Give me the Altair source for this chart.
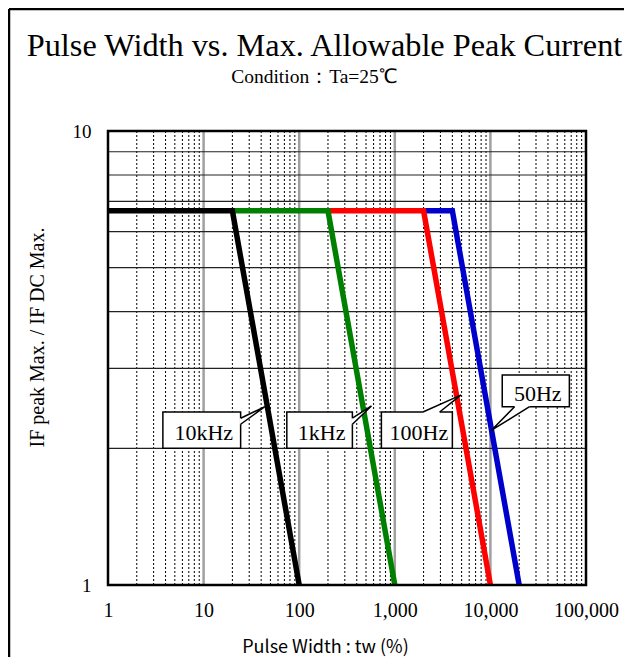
import altair as alt
import pandas as pd

# ---------------- data ----------------
series_names = ["50Hz", "100Hz", "1kHz", "10kHz"]          # drawing order (last on top)
series_colors = ["#0000cc", "#ff0000", "#008000", "#000000"]
tw_50hz = [2000, 4000, 20000]
tw_100hz = [200, 2000, 10000]
tw_1khz = [20, 200, 1000]
tw_10khz = [1, 20, 100]
ratio = [6.67, 6.67, 1.0]

x_ticks = [1, 10, 100, 1000, 10000, 100000]
y_ticks = [1, 10]
x_major_grid = [10, 100, 1000, 10000]
x_minor_grid = [2, 3, 4, 5, 6, 7, 8, 9,
                20, 30, 40, 50, 60, 70, 80, 90,
                200, 300, 400, 500, 600, 700, 800, 900,
                2000, 3000, 4000, 5000, 6000, 7000, 8000, 9000,
                20000, 30000, 40000, 50000, 60000, 70000, 80000, 90000]
y_grid = [2, 3, 4, 5, 6, 7, 8, 9]

# callout labels (data coordinates)
label_text = ["10kHz", "1kHz", "100Hz", "50Hz"]
box_x1 = [3.75, 74.2, 724, 13300]
box_x2 = [24.4, 360, 4000, 67000]
box_y1 = [2.0, 2.0, 2.0, 2.47]
box_y2 = [2.405, 2.405, 2.405, 2.90]
tail_b1_x = [24.4, 360, 1970, 17900]
tail_b1_y = [2.33, 2.33, 2.405, 2.47]
tail_b2_x = [24.4, 360, 2945, 25700]
tail_b2_y = [2.26, 2.26, 2.405, 2.47]
tip_x = [43.7, 570, 4900, 10200]
tip_y = [2.47, 2.48, 2.62, 2.19]

title_text = "Pulse Width vs. Max. Allowable Peak Current"
subtitle_text = "Condition：Ta=25℃"
x_title = "Pulse Width : tw (%)"
y_title = "IF peak Max. / IF DC Max."

# ---------------- tables ----------------
tw_all = [tw_50hz, tw_100hz, tw_1khz, tw_10khz]
rows = []
for i, (name, tws) in enumerate(zip(series_names, tw_all)):
    for j, (t, r) in enumerate(zip(tws, ratio)):
        rows.append({"series": name, "rank": i, "tw": t, "ratio": r, "o": j})
df_lines = pd.DataFrame(rows)

df_boxes = pd.DataFrame({
    "label": label_text, "x1": box_x1, "x2": box_x2, "y1": box_y1, "y2": box_y2,
    "b1x": tail_b1_x, "b1y": tail_b1_y, "b2x": tail_b2_x, "b2y": tail_b2_y,
})
df_boxes["cx"] = (df_boxes["x1"] * df_boxes["x2"]) ** 0.5
df_boxes["cy"] = (df_boxes["y1"] * df_boxes["y2"]) ** 0.5

tail_rows = []
for k in range(len(label_text)):
    tail_rows.append({"label": label_text[k], "o": 0, "x": tail_b1_x[k], "y": tail_b1_y[k]})
    tail_rows.append({"label": label_text[k], "o": 1, "x": tip_x[k], "y": tip_y[k]})
    tail_rows.append({"label": label_text[k], "o": 2, "x": tail_b2_x[k], "y": tail_b2_y[k]})
df_tails = pd.DataFrame(tail_rows)

W, H = 478, 454
SERIF = "Liberation Serif"

xscale = alt.Scale(type="log", domain=[1, 100000], nice=False)
yscale = alt.Scale(type="log", domain=[1, 10], nice=False)

x_axis = alt.Axis(values=x_ticks, format=",", grid=False, ticks=False, domain=False,
                  labelFont=SERIF, labelFontSize=20, labelColor="black", labelPadding=15,
                  labelFlush=False, labelOverlap=False,
                  title=x_title, titleFont="Noto Sans CJK JP", titleFontSize=18,
                  titleFontWeight="normal", titleColor="black",
                  titleX=217, titleY=62, titleBaseline="middle", titleAlign="center")
y_axis = alt.Axis(values=y_ticks, format="d", grid=False, ticks=False, domain=False,
                  labelFont=SERIF, labelFontSize=19, labelColor="black", labelPadding=17,
                  labelBaseline="middle",
                  title=y_title, titleFont=SERIF, titleFontSize=20,
                  titleFontWeight="normal", titleColor="black", titleAngle=270,
                  titleX=-71, titleY=206, titleBaseline="middle", titleAlign="center")

# gridlines
minor_v = alt.Chart(pd.DataFrame({"v": x_minor_grid})).mark_rule(
    color="black", strokeWidth=1, strokeDash=[2, 2]
).encode(x=alt.X("v:Q", scale=xscale, axis=x_axis))
major_v = alt.Chart(pd.DataFrame({"v": x_major_grid})).mark_rule(
    color="#a0a0a0", strokeWidth=2.5
).encode(x=alt.X("v:Q", scale=xscale))
hgrid = alt.Chart(pd.DataFrame({"v": y_grid})).mark_rule(
    color="#222222", strokeWidth=1.2
).encode(y=alt.Y("v:Q", scale=yscale, axis=y_axis))

lines = []
for name, col in zip(series_names, series_colors):
    lines.append(
        alt.Chart(df_lines).transform_filter(alt.datum.series == name).mark_line(
            color=col, strokeWidth=5.5, strokeJoin="miter", clip=True
        ).encode(
            x=alt.X("tw:Q", scale=xscale),
            y=alt.Y("ratio:Q", scale=yscale),
            order="o:O",
        )
    )

boxes = alt.Chart(df_boxes).mark_rect(fill="white", stroke="black", strokeWidth=1.5).encode(
    x=alt.X("x1:Q", scale=xscale), x2="x2:Q",
    y=alt.Y("y1:Q", scale=yscale), y2="y2:Q",
)
eraser = alt.Chart(df_boxes).mark_rule(color="white", strokeWidth=2.5).encode(
    x=alt.X("b1x:Q", scale=xscale), x2="b2x:Q",
    y=alt.Y("b1y:Q", scale=yscale), y2="b2y:Q",
)
tails = alt.Chart(df_tails).mark_line(
    stroke="black", fill="white", strokeWidth=1.5, strokeJoin="miter"
).encode(
    x=alt.X("x:Q", scale=xscale), y=alt.Y("y:Q", scale=yscale),
    detail="label:N", order="o:O",
)
texts = alt.Chart(df_boxes).mark_text(
    font=SERIF, fontSize=22, color="black", baseline="middle", align="center", dy=3, dx=2
).encode(
    x=alt.X("cx:Q", scale=xscale), y=alt.Y("cy:Q", scale=yscale), text="label:N"
)

one = alt.Data(values=[{"a": 1}])
border = alt.Chart(one).mark_rect(filled=False, stroke="black", strokeWidth=2.5).encode(
    x=alt.value(0), x2=alt.value(W), y=alt.value(0), y2=alt.value(H)
)
frame_top = alt.Chart(one).mark_rule(color="black", strokeWidth=2.5).encode(
    x=alt.value(-99), x2=alt.value(700), y=alt.value(-122)
)
frame_left = alt.Chart(one).mark_rule(color="black", strokeWidth=2.5).encode(
    x=alt.value(-99), y=alt.value(-122), y2=alt.value(700)
)
title_mark = alt.Chart(alt.Data(values=[{"t": title_text}])).mark_text(
    font=SERIF, fontSize=32.3, color="black", align="center", baseline="alphabetic"
).encode(x=alt.value(216.5), y=alt.value(-75), text="t:N")
subtitle_mark = alt.Chart(alt.Data(values=[{"t": subtitle_text}])).mark_text(
    font=SERIF, fontSize=19.5, color="black", align="center", baseline="alphabetic"
).encode(x=alt.value(206), y=alt.value(-48), text="t:N")

chart = alt.layer(
    minor_v, major_v, hgrid, *lines, boxes, eraser, tails, texts, border,
    frame_top, frame_left, title_mark, subtitle_mark
).properties(
    width=W, height=H,
    autosize=alt.AutoSizeParams(type="none"),
    padding={"left": 100, "top": 123, "right": 38, "bottom": 72},
).configure_view(stroke=None).configure(background="white")

chart.save("out.html", embed_options={"renderer": "svg", "actions": False})
